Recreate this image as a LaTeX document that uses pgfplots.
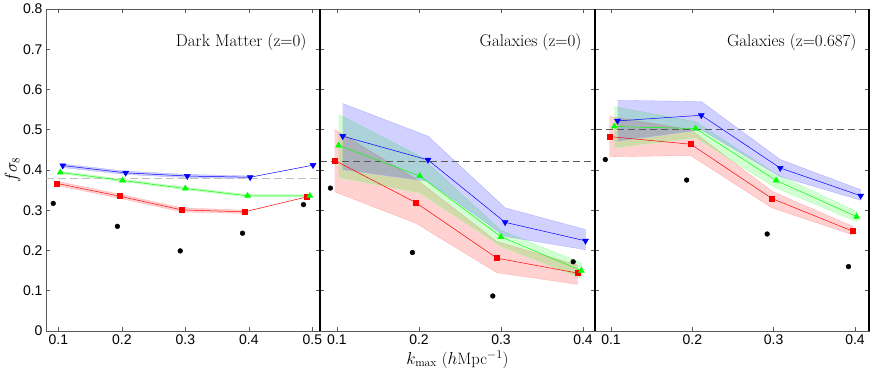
\documentclass[border=0pt]{standalone}
\usepackage{fontspec}
\usepackage{pgfplots}
\pgfplotsset{compat=1.18}
\newfontfamily\arial{Liberation Sans}

\pgfplotsset{
  panel/.style={
    scale only axis, height=322pt,
    ymin=0, ymax=0.8,
    ytick={0,0.1,0.2,0.3,0.4,0.5,0.6,0.7,0.8},
    axis line style={gray!70!black, line width=0.6pt},
    tick style={gray!70!black, line width=0.5pt},
    major tick length=4pt, tick align=inside,
    tick label style={font=\arial\fontsize{14}{16}\selectfont,
      /pgf/number format/assume math mode=true},
    yticklabel style={/pgf/number format/fixed, /pgf/number format/precision=1},
    xticklabel style={/pgf/number format/fixed, /pgf/number format/precision=1},
  },
  blk/.style={only marks, mark=*, mark size=2.4pt, black},
  rd/.style={red, line width=0.5pt, mark=square*, mark size=2.5pt},
  gr/.style={green, line width=0.5pt, mark=triangle*, mark size=3.4pt},
  bl/.style={blue, line width=0.5pt, mark=triangle*, mark size=3.4pt, mark options={rotate=180}},
  band/.style={fill=#1, fill opacity=0.18, draw=#1!35, line width=0.3pt},
}
\tikzset{ptitle/.style={anchor=east, font=\fontsize{17}{20}\selectfont}}

\begin{document}
\begin{tikzpicture}
\path[use as bounding box] (-46pt,-43pt) rectangle (826pt,331pt);

% Dark matter z=0
\begin{axis}[panel, at={(0pt,0pt)}, width=274pt,
  xmin=0.0806, xmax=0.512, xtick={0.1,0.2,0.3,0.4,0.5},
  ylabel={$f\sigma_8$}, ylabel style={font=\fontsize{16}{18}\selectfont, yshift=-4pt}]
  \addplot[band=red] coordinates {(0.097,0.372)(0.196,0.340)(0.294,0.306)(0.393,0.300)
    (0.393,0.292)(0.294,0.296)(0.196,0.330)(0.097,0.362)};
  \addplot[band=green] coordinates {(0.103,0.397)(0.201,0.377)(0.300,0.357)(0.398,0.339)(0.496,0.339)
    (0.496,0.333)(0.398,0.333)(0.300,0.351)(0.201,0.371)(0.103,0.391)};
  \addplot[band=blue] coordinates {(0.107,0.415)(0.206,0.397)(0.303,0.389)(0.402,0.385)
    (0.402,0.379)(0.303,0.381)(0.206,0.389)(0.107,0.406)};
  \addplot[gray!50, dashed, dash pattern=on 8pt off 4pt, line width=0.8pt] coordinates {(0.0806,0.380)(0.512,0.380)};
  \addplot[rd] coordinates {(0.097,0.367)(0.196,0.335)(0.294,0.301)(0.393,0.296)(0.491,0.333)};
  \addplot[gr] coordinates {(0.103,0.394)(0.201,0.374)(0.300,0.354)(0.398,0.336)(0.496,0.336)};
  \addplot[bl] coordinates {(0.107,0.411)(0.206,0.393)(0.303,0.385)(0.402,0.382)(0.501,0.412)};
  \addplot[blk] coordinates {(0.092,0.317)(0.193,0.260)(0.292,0.199)(0.390,0.243)(0.486,0.314)};
  \node[ptitle] at (rel axis cs:1,0.8975) [xshift=-10pt] {Dark Matter (z=0)};
\end{axis}

% Galaxies z=0
\begin{axis}[panel, at={(274pt,0pt)}, width=275pt,
  xmin=0.0793, xmax=0.4146, xtick={0.1,0.2,0.3,0.4}, yticklabels=\empty,
  xlabel={$k_{\max}$ ($h$Mpc$^{-1}$)},
  xlabel style={font=\fontsize{16.5}{19}\selectfont, yshift=1pt}]
  \addplot[band=red] coordinates {(0.097,0.501)(0.196,0.378)(0.295,0.222)(0.393,0.164)
    (0.393,0.116)(0.295,0.145)(0.196,0.268)(0.097,0.346)};
  \addplot[band=green] coordinates {(0.102,0.538)(0.201,0.434)(0.300,0.250)(0.398,0.169)
    (0.398,0.131)(0.300,0.210)(0.201,0.343)(0.102,0.381)};
  \addplot[band=blue] coordinates {(0.107,0.565)(0.211,0.484)(0.305,0.306)(0.403,0.252)
    (0.403,0.202)(0.305,0.235)(0.211,0.372)(0.107,0.401)};
  \addplot[gray!70!black, dashed, dash pattern=on 7pt off 4pt, line width=0.7pt] coordinates {(0.0793,0.421)(0.4146,0.421)};
  \addplot[rd] coordinates {(0.097,0.424)(0.196,0.319)(0.295,0.181)(0.393,0.144)};
  \addplot[gr] coordinates {(0.102,0.461)(0.201,0.385)(0.300,0.234)(0.398,0.150)};
  \addplot[bl] coordinates {(0.107,0.484)(0.211,0.425)(0.305,0.270)(0.403,0.224)};
  \addplot[blk] coordinates {(0.092,0.355)(0.192,0.195)(0.290,0.087)(0.388,0.172)};
  \node[ptitle] at (rel axis cs:1,0.8975) [xshift=-10pt] {Galaxies (z=0)};
\end{axis}

% Galaxies z=0.687
\begin{axis}[panel, at={(549pt,0pt)}, width=274pt,
  xmin=0.0803, xmax=0.4172, xtick={0.1,0.2,0.3,0.4}, yticklabels=\empty]
  \addplot[band=red] coordinates {(0.098,0.533)(0.198,0.500)(0.298,0.347)(0.397,0.260)
    (0.397,0.239)(0.298,0.306)(0.198,0.436)(0.098,0.433)};
  \addplot[band=green] coordinates {(0.104,0.557)(0.204,0.520)(0.303,0.390)(0.402,0.297)
    (0.402,0.272)(0.303,0.355)(0.204,0.480)(0.104,0.455)};
  \addplot[band=blue] coordinates {(0.108,0.573)(0.211,0.570)(0.308,0.426)(0.407,0.351)
    (0.407,0.325)(0.308,0.384)(0.211,0.500)(0.108,0.472)};
  \addplot[gray!70!black, dashed, dash pattern=on 7pt off 4pt, line width=0.7pt] coordinates {(0.0803,0.501)(0.4172,0.501)};
  \addplot[rd] coordinates {(0.098,0.483)(0.198,0.464)(0.298,0.329)(0.397,0.248)};
  \addplot[gr] coordinates {(0.104,0.508)(0.204,0.503)(0.303,0.374)(0.402,0.284)};
  \addplot[bl] coordinates {(0.108,0.522)(0.211,0.536)(0.308,0.405)(0.407,0.336)};
  \addplot[blk] coordinates {(0.093,0.426)(0.193,0.375)(0.292,0.241)(0.392,0.160)};
  \node[ptitle] at (rel axis cs:1,0.8975) [xshift=-9pt] {Galaxies (z=0.687)};
\end{axis}

\draw[black, line width=1.6pt] (274pt,0pt) -- (274pt,322pt);
\draw[black, line width=1.6pt] (549pt,0pt) -- (549pt,322pt);
\draw[black, line width=1.6pt] (823pt,0pt) -- (823pt,322pt);
\end{tikzpicture}
\end{document}
